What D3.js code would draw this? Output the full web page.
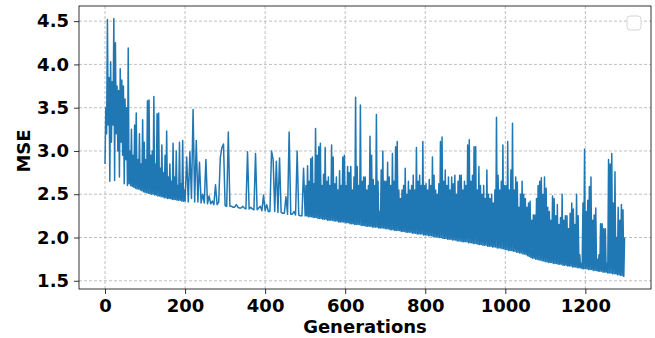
<!DOCTYPE html>
<html>
<head>
<meta charset="utf-8">
<script src="https://cdn.jsdelivr.net/npm/d3@7"></script>
<style>
  body { margin: 0; background: #fff; }
  .tick text { font-family: "DejaVu Sans", sans-serif; font-weight: bold; font-size: 18px; fill: #000; }
  .axesText { font-family: "DejaVu Sans", sans-serif; font-weight: bold; font-size: 18px; fill: #000; }
</style>
</head>
<body>
<div id="chart"></div>
<script>
// MSE per generation, grouped by 100 generations
// busy blocks have a value every 2 generations, quiet blocks every 4
var mse0000 = [2.85, 3.50, 3.20, 4.52, 3.30, 3.85, 2.65, 4.03, 3.10, 3.80, 3.30, 4.53, 2.66, 4.25, 3.20, 3.75, 3.00, 3.70, 2.70, 3.95, 3.10, 3.82, 2.95, 3.75, 2.62,
               3.60, 2.90, 3.50, 2.60, 4.19, 2.62, 3.00, 2.60, 3.25, 2.59, 2.95, 2.58, 3.30, 2.57, 3.44, 2.56, 2.90, 2.56, 3.20, 2.55, 2.85, 2.54, 3.36, 2.53, 3.10];
var mse0100 = [2.52, 2.90, 2.52, 3.58, 2.51, 3.59, 2.51, 2.95, 2.50, 3.00, 2.50, 3.63, 2.49, 2.85, 2.49, 3.43, 2.48, 3.44, 2.48, 2.80, 2.47, 3.07, 2.47, 2.75, 2.46,
               2.95, 2.46, 3.23, 2.45, 2.70, 2.45, 2.85, 2.45, 2.65, 2.44, 3.09, 2.44, 2.70, 2.44, 3.00, 2.43, 2.60, 2.43, 3.10, 2.43, 2.62, 2.42, 3.12, 2.42, 2.55];
var mse0200 = [2.42, 2.93, 2.41, 2.99, 2.45, 3.48, 2.41, 3.12, 2.41, 2.87, 2.40, 2.50, 2.40, 2.90, 2.39, 2.48, 2.39, 2.42, 2.38, 2.61, 2.38, 2.41, 2.92, 3.04, 3.08];
var mse0300 = [2.37, 2.36, 3.22, 2.36, 2.36, 2.35, 2.35, 2.38, 2.35, 2.34, 2.34, 2.36, 2.34, 2.33, 2.99, 2.33, 2.35, 2.33, 2.32, 2.97, 2.32, 2.34, 2.36, 2.31, 2.49];
var mse0400 = [2.31, 2.38, 2.30, 2.30, 3.00, 2.90, 2.30, 2.88, 2.29, 2.92, 2.29, 2.28, 2.28, 2.47, 2.27, 3.22, 2.27, 2.27, 2.30, 2.26, 3.00, 2.26, 2.25, 2.25, 2.80];
var mse0500 = [2.25, 2.60, 2.25, 2.83, 2.24, 2.65, 2.24, 2.91, 2.24, 2.93, 2.23, 2.62, 2.23, 3.26, 2.23, 2.95, 2.22, 3.05, 2.22, 3.09, 2.22, 2.60, 2.21, 2.73, 2.21,
               3.04, 2.21, 2.65, 2.20, 2.70, 2.20, 2.60, 2.20, 3.07, 2.20, 2.93, 2.19, 2.62, 2.19, 2.70, 2.19, 2.55, 2.18, 2.77, 2.18, 2.60, 2.18, 2.93, 2.18, 2.95];
var mse0600 = [2.17, 2.60, 2.17, 2.82, 2.17, 2.75, 2.16, 2.82, 2.16, 2.55, 2.16, 2.70, 2.15, 3.62, 2.15, 2.82, 2.15, 2.60, 2.15, 3.53, 2.14, 2.65, 2.14, 2.70, 2.14,
               2.70, 2.13, 2.55, 2.13, 2.60, 2.13, 3.17, 2.13, 2.95, 2.12, 2.67, 2.12, 2.60, 2.12, 3.42, 2.12, 2.65, 2.11, 2.30, 2.11, 2.78, 2.11, 3.00, 2.11, 2.65];
var mse0700 = [2.10, 2.65, 2.10, 2.87, 2.10, 2.70, 2.09, 2.60, 2.09, 2.97, 2.09, 2.65, 2.08, 3.05, 2.08, 3.11, 2.08, 2.55, 2.08, 2.45, 2.07, 2.55, 2.07, 2.60, 2.07,
               2.80, 2.06, 2.50, 2.06, 2.65, 2.06, 2.55, 2.06, 2.60, 2.05, 2.72, 2.05, 2.55, 2.05, 3.04, 2.04, 2.65, 2.04, 2.72, 2.04, 2.60, 2.04, 3.11, 2.03, 2.60];
var mse0800 = [2.03, 2.62, 2.03, 2.55, 2.02, 2.67, 2.02, 2.60, 2.02, 2.93, 2.01, 2.72, 2.01, 2.55, 2.01, 2.50, 2.00, 2.62, 2.00, 3.11, 2.00, 3.16, 1.99, 2.65, 1.99,
               2.78, 1.99, 2.60, 1.98, 2.70, 1.98, 2.55, 1.98, 2.70, 1.97, 2.62, 1.97, 2.72, 1.97, 2.50, 1.96, 2.65, 1.96, 2.72, 1.96, 2.72, 1.95, 2.55, 1.95, 2.65];
var mse0900 = [1.95, 2.60, 1.95, 3.07, 1.94, 3.13, 1.94, 2.65, 1.94, 2.72, 1.93, 3.05, 1.93, 3.05, 1.93, 2.55, 1.92, 2.82, 1.92, 2.60, 1.92, 2.50, 1.91, 2.60, 1.91,
               2.45, 1.91, 2.78, 1.90, 2.50, 1.90, 2.45, 1.90, 2.50, 1.89, 2.40, 1.89, 2.55, 1.89, 3.39, 1.88, 2.72, 1.88, 2.55, 1.88, 2.65, 1.87, 3.07, 1.87, 2.60];
var mse1000 = [1.86, 2.60, 1.86, 3.11, 1.85, 2.55, 1.85, 2.78, 1.85, 3.32, 1.84, 2.55, 1.84, 2.70, 1.83, 2.64, 1.83, 2.35, 1.82, 2.50, 1.82, 2.65, 1.81, 2.50, 1.81,
               2.45, 1.80, 2.35, 1.79, 2.40, 1.78, 2.42, 1.77, 2.20, 1.76, 2.26, 1.76, 2.26, 1.75, 2.45, 1.75, 2.60, 1.74, 2.65, 1.74, 2.69, 1.73, 2.50, 1.73, 2.70];
var mse1100 = [1.72, 2.57, 1.72, 2.35, 1.71, 2.30, 1.71, 2.20, 1.71, 2.48, 1.70, 2.45, 1.70, 2.25, 1.70, 2.38, 1.69, 2.15, 1.69, 2.23, 1.69, 2.50, 1.68, 2.20, 1.68,
               2.25, 1.68, 2.25, 1.67, 2.10, 1.67, 2.28, 1.67, 2.40, 1.66, 2.33, 1.66, 2.15, 1.66, 2.50, 1.65, 2.25, 1.65, 1.80, 1.65, 1.70, 1.64, 2.40, 1.64, 3.02];
var mse1200 = [1.64, 2.30, 1.64, 2.43, 1.63, 2.59, 1.63, 2.70, 1.63, 2.20, 1.62, 2.26, 1.62, 2.34, 1.62, 1.75, 1.61, 1.80, 1.61, 2.16, 1.61, 2.16, 1.60, 2.10, 1.60,
               2.10, 1.60, 1.70, 1.59, 2.90, 1.59, 2.85, 1.59, 2.97, 1.58, 2.40, 1.58, 2.76, 1.58, 2.00, 1.57, 2.35, 1.57, 2.20, 1.56, 2.38, 1.56, 2.32, 1.55, 2.00];

var blockStarts = [0, 100, 200, 300, 400, 500, 600, 700, 800, 900, 1000, 1100, 1200];
var xTicks = [0, 200, 400, 600, 800, 1000, 1200];
var yTicks = [1.5, 2.0, 2.5, 3.0, 3.5, 4.0, 4.5];

var blocks = [mse0000, mse0100, mse0200, mse0300, mse0400, mse0500, mse0600,
  mse0700, mse0800, mse0900, mse1000, mse1100, mse1200];

var mseData = [];
blocks.forEach((vals, b) => {
  var step = 100 / vals.length;
  vals.forEach((v, j) => mseData.push({ gen: blockStarts[b] + j * step, mse: v }));
});

var svgWidth = 655;
var svgHeight = 338;

var margin = { top: 6, right: 4, bottom: 49, left: 79 };
var width = svgWidth - margin.left - margin.right;
var height = svgHeight - margin.top - margin.bottom;

var svg = d3.select("#chart")
  .append("svg")
  .attr("width", svgWidth)
  .attr("height", svgHeight);

var chartGroup = svg.append("g")
  .attr("transform", `translate(${margin.left}, ${margin.top})`);

// matplotlib style limits (5% margins)
var xScale = d3.scaleLinear()
  .domain([-65, 1364])
  .range([0, width]);

var yScale = d3.scaleLinear()
  .domain([1.405, 4.675])
  .range([height, 0]);

// grid
chartGroup.append("g")
  .selectAll("line")
  .data(xTicks)
  .enter()
  .append("line")
  .attr("x1", d => xScale(d))
  .attr("x2", d => xScale(d))
  .attr("y1", 0)
  .attr("y2", height)
  .attr("stroke", "#b0b0b0")
  .attr("stroke-width", 0.8)
  .attr("stroke-dasharray", "3,2");

chartGroup.append("g")
  .selectAll("line")
  .data(yTicks)
  .enter()
  .append("line")
  .attr("x1", 0)
  .attr("x2", width)
  .attr("y1", d => yScale(d))
  .attr("y2", d => yScale(d))
  .attr("stroke", "#b0b0b0")
  .attr("stroke-width", 0.8)
  .attr("stroke-dasharray", "3,2");

// line
var line = d3.line()
  .x(d => xScale(d.gen))
  .y(d => yScale(d.mse));

chartGroup.append("path")
  .datum(mseData)
  .attr("d", line)
  .attr("fill", "none")
  .attr("stroke", "#1f77b4")
  .attr("stroke-width", 1.5)
  .attr("stroke-linejoin", "round");

// axes
var bottomAxis = d3.axisBottom(xScale).tickValues(xTicks).tickSize(5).tickPadding(5).tickFormat(d3.format("d"));
var leftAxis = d3.axisLeft(yScale).tickValues(yTicks).tickSize(5).tickPadding(5).tickFormat(d3.format(".1f"));

var xAxisG = chartGroup.append("g")
  .attr("transform", `translate(0, ${height})`)
  .call(bottomAxis);
var yAxisG = chartGroup.append("g")
  .call(leftAxis);

[xAxisG, yAxisG].forEach(g => {
  g.select(".domain").remove();
  g.selectAll(".tick line").attr("stroke", "#000").attr("stroke-width", 0.8);
});

// frame
chartGroup.append("rect")
  .attr("x", 0)
  .attr("y", 0)
  .attr("width", width)
  .attr("height", height)
  .attr("fill", "none")
  .attr("stroke", "#000")
  .attr("stroke-width", 0.8);

// empty legend box
chartGroup.append("rect")
  .attr("x", width - 24)
  .attr("y", 10)
  .attr("width", 14)
  .attr("height", 14)
  .attr("rx", 3)
  .attr("fill", "#fff")
  .attr("stroke", "#d5d5d5")
  .attr("stroke-width", 1);

// axis labels
chartGroup.append("text")
  .attr("class", "axesText")
  .attr("x", width / 2)
  .attr("y", height + 44)
  .attr("text-anchor", "middle")
  .text("Generations");

chartGroup.append("text")
  .attr("class", "axesText")
  .attr("transform", `translate(${24 - margin.left + 6}, ${151 - margin.top}) rotate(-90)`)
  .attr("text-anchor", "middle")
  .text("MSE");
</script>
</body>
</html>
